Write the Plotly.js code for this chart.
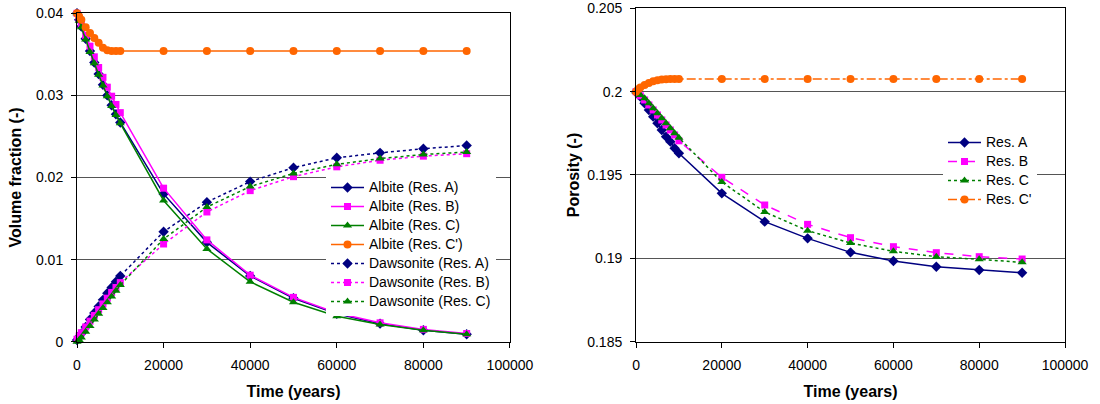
<!DOCTYPE html>
<html><head><meta charset="utf-8">
<script src="https://cdn.plot.ly/plotly-3.0.1.min.js"></script>
<style>html,body{margin:0;padding:0;background:#fff}#chart{width:1100px;height:404px}</style>
</head><body><div id="chart"></div>
<script>
// Time axis (years)
const timeYears = [0, 500, 1000, 2000, 3000, 4000, 5000, 6000, 7000, 8000, 9000, 10000, 20000, 30000, 40000, 50000, 60000, 70000, 80000, 90000];

// Left chart: volume fraction (-)
const albiteResA  = [0.0400, 0.0392, 0.0384, 0.0369, 0.0354, 0.0340, 0.0326, 0.0313, 0.0300, 0.0288, 0.0277, 0.0267, 0.0180, 0.0121, 0.0080, 0.0053, 0.0034, 0.0022, 0.0014, 0.0009];
const albiteResB  = [0.0400, 0.0394, 0.0387, 0.0373, 0.0360, 0.0347, 0.0334, 0.0322, 0.0310, 0.0299, 0.0289, 0.0279, 0.0187, 0.0124, 0.0081, 0.0054, 0.0035, 0.0023, 0.0015, 0.0010];
const albiteResC  = [0.0400, 0.0391, 0.0383, 0.0368, 0.0353, 0.0339, 0.0325, 0.0312, 0.0299, 0.0287, 0.0276, 0.0266, 0.0172, 0.0113, 0.0073, 0.0048, 0.0031, 0.0021, 0.0014, 0.0009];
const albiteResCp = [0.0400, 0.0396, 0.0392, 0.0383, 0.0376, 0.0370, 0.0364, 0.0358, 0.0355, 0.0354, 0.0354, 0.0354, 0.0354, 0.0354, 0.0354, 0.0354, 0.0354, 0.0354, 0.0354, 0.0354];
const dawsoniteResA = [0.0002, 0.0006, 0.0010, 0.0018, 0.0027, 0.0035, 0.0043, 0.0051, 0.0059, 0.0066, 0.0073, 0.0080, 0.0134, 0.0170, 0.0195, 0.0212, 0.0224, 0.0230, 0.0235, 0.0239];
const dawsoniteResB = [0.0003, 0.0007, 0.0011, 0.0018, 0.0025, 0.0032, 0.0039, 0.0046, 0.0053, 0.0060, 0.0066, 0.0072, 0.0119, 0.0158, 0.0184, 0.0201, 0.0213, 0.0221, 0.0226, 0.0229];
const dawsoniteResC = [0.0000, 0.0002, 0.0005, 0.0012, 0.0019, 0.0027, 0.0034, 0.0041, 0.0048, 0.0055, 0.0062, 0.0069, 0.0125, 0.0164, 0.0189, 0.0205, 0.0216, 0.0223, 0.0228, 0.0231];

// Right chart: porosity (-)
const porosityResA  = [0.2000, 0.19985, 0.1997, 0.1993, 0.1989, 0.1985, 0.1981, 0.1977, 0.1973, 0.1970, 0.1966, 0.1963, 0.1939, 0.1922, 0.1912, 0.19036, 0.18984, 0.1895, 0.1893, 0.18914];
const porosityResB  = [0.2000, 0.19988, 0.19975, 0.1995, 0.1992, 0.1989, 0.1986, 0.1983, 0.1980, 0.1977, 0.1974, 0.19705, 0.19486, 0.1932, 0.19204, 0.19124, 0.1907, 0.19034, 0.1901, 0.18996];
const porosityResC  = [0.2000, 0.1999, 0.1998, 0.1996, 0.1993, 0.1990, 0.1987, 0.1984, 0.1981, 0.1978, 0.1975, 0.19724, 0.19458, 0.19278, 0.19166, 0.19092, 0.19042, 0.1901, 0.18994, 0.18976];
const porosityResCp = [0.2000, 0.20015, 0.20025, 0.2004, 0.20052, 0.20062, 0.20068, 0.20073, 0.20075, 0.20076, 0.20076, 0.20076, 0.20076, 0.20076, 0.20076, 0.20076, 0.20076, 0.20076, 0.20076, 0.20076];

const NAVY = '#000080', MAG = '#FF00FF', GRN = '#008000', ORG = '#FF6600';
const FONT = 'Liberation Sans, Arial, sans-serif';

// legend text drawn at 14px while rows are spaced like a 12px legend
function lbl(s) { return '<span style="font-size:14px">' + s + '</span>'; }

function tr(name, y, color, symbol, size, dash, xa, ya, leg) {
  return {
    x: timeYears, y: y, name: lbl(name), type: 'scatter', mode: 'lines+markers',
    line: {color: color, width: 1.5, dash: dash},
    marker: {color: color, symbol: symbol, size: size, line: {width: 0}},
    xaxis: xa, yaxis: ya, legend: leg, cliponaxis: false
  };
}

const data = [
  tr('Albite (Res. A)', albiteResA, NAVY, 'diamond', 8, 'solid', 'x', 'y', 'legend'),
  tr('Albite (Res. B)', albiteResB, MAG, 'square', 7, 'solid', 'x', 'y', 'legend'),
  tr('Albite (Res. C)', albiteResC, GRN, 'triangle-up', 8, 'solid', 'x', 'y', 'legend'),
  tr("Albite (Res. C')", albiteResCp, ORG, 'circle', 8, 'solid', 'x', 'y', 'legend'),
  tr('Dawsonite (Res. A)', dawsoniteResA, NAVY, 'diamond', 8, 'dot', 'x', 'y', 'legend'),
  tr('Dawsonite (Res. B)', dawsoniteResB, MAG, 'square', 7, 'dot', 'x', 'y', 'legend'),
  tr('Dawsonite (Res. C)', dawsoniteResC, GRN, 'triangle-up', 8, 'dot', 'x', 'y', 'legend'),
  tr('Res. A', porosityResA, NAVY, 'diamond', 8, 'solid', 'x2', 'y2', 'legend2'),
  tr('Res. B', porosityResB, MAG, 'square', 7, 'dash', 'x2', 'y2', 'legend2'),
  tr('Res. C', porosityResC, GRN, 'triangle-up', 8, 'dot', 'x2', 'y2', 'legend2'),
  tr("Res. C'", porosityResCp, ORG, 'circle', 8, 'dashdot', 'x2', 'y2', 'legend2')
];

const xCommon = {
  range: [0, 100000], dtick: 20000, tick0: 0, tickformat: 'd',
  ticks: 'outside', ticklen: 5, tickcolor: '#000', ticklabelstandoff: 5,
  showline: true, linecolor: '#000', linewidth: 1, mirror: true,
  showgrid: false, zeroline: false,
  tickfont: {size: 14, color: '#000'},
  title: {text: '<b>Time (years)</b>', font: {size: 16, color: '#000'}, standoff: 14}
};
const yCommon = {
  ticks: 'outside', ticklen: 5, tickcolor: '#000', ticklabelstandoff: 5,
  showline: true, linecolor: '#000', linewidth: 1, mirror: true,
  showgrid: true, gridcolor: '#555', gridwidth: 1, zeroline: false,
  tickfont: {size: 14, color: '#000'}
};

const layout = {
  width: 1100, height: 404,
  margin: {l: 0, r: 0, t: 0, b: 0},
  paper_bgcolor: '#fff', plot_bgcolor: '#fff',
  font: {family: FONT, color: '#000'},
  showlegend: true,
  xaxis: Object.assign({}, xCommon, {domain: [0.07, 0.4636], anchor: 'y'}),
  yaxis: Object.assign({}, yCommon, {domain: [0.1542, 0.9671], anchor: 'x', range: [0, 0.04], dtick: 0.01, tick0: 0,
    title: {text: '<b>Volume fraction (-)</b>', font: {size: 16, color: '#000'}, standoff: 10}}),
  xaxis2: Object.assign({}, xCommon, {domain: [0.5782, 0.9682], anchor: 'y2'}),
  yaxis2: Object.assign({}, yCommon, {domain: [0.1542, 0.9795], anchor: 'x2', range: [0.185, 0.205], dtick: 0.005, tick0: 0.185,
    title: {text: '<b>Porosity (-)</b>', font: {size: 16, color: '#000'}, standoff: 3}}),
  legend: {x: 326/1100, y: (404-173)/404, xanchor: 'left', yanchor: 'top', bgcolor: '#fff', borderwidth: 0,
    font: {size: 12, color: '#000'}, itemwidth: 33, tracegroupgap: 0},
  legend2: {x: 943/1100, y: (404-128)/404, xanchor: 'left', yanchor: 'top', bgcolor: '#fff', borderwidth: 0,
    font: {size: 12, color: '#000'}, itemwidth: 33, tracegroupgap: 0}
};

Plotly.newPlot('chart', data, layout, {displayModeBar: false, staticPlot: true});
</script>
</body></html>
